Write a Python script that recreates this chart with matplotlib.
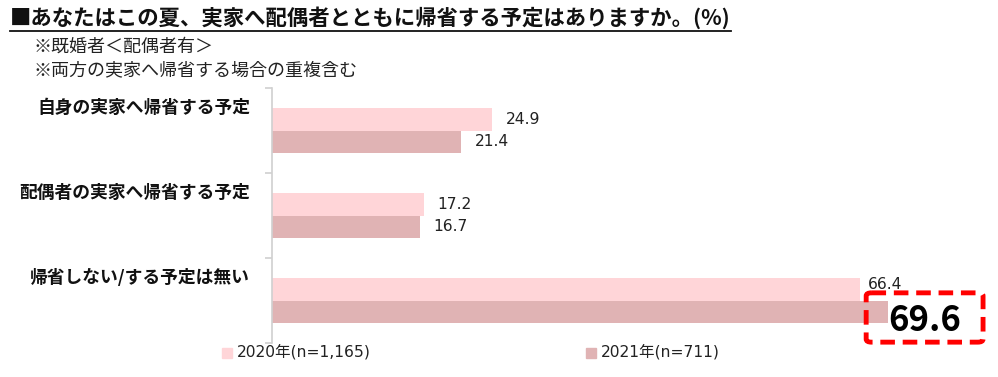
import matplotlib.pyplot as plt
import matplotlib.transforms as mtransforms
from matplotlib.patches import FancyBboxPatch, Rectangle
from matplotlib.lines import Line2D
import numpy as np

plt.rcParams['font.family'] = ['Noto Sans CJK JP', 'DejaVu Sans']
latin = ['DejaVu Sans', 'Noto Sans CJK JP']

title = '■あなたはこの夏、実家へ配偶者とともに帰省する予定はありますか。(%)'
notes = ['※既婚者＜配偶者有＞', '※両方の実家へ帰省する場合の重複含む']
categories = ['自身の実家へ帰省する予定', '配偶者の実家へ帰省する予定', '帰省しない/する予定は無い']
series_names = ['2020年(n=1,165)', '2021年(n=711)']
values_2020 = [24.9, 17.2, 66.4]
values_2021 = [21.4, 16.7, 69.6]
colors = ['#FFD5D8', '#E0B3B4']

W, H = 998, 377
fig = plt.figure(figsize=(W / 100, H / 100), dpi=100)
ax = fig.add_axes([272 / W, 1 - 343 / H, (W - 272) / W, 255 / H])

y = np.arange(len(categories))
bh = 0.259
ax.barh(y - bh / 2, values_2020, height=bh, color=colors[0])
ax.barh(y + bh / 2, values_2021, height=bh, color=colors[1])
ax.set_xlim(0, (W - 272) / 8.855)
ax.set_ylim(len(categories) - 0.5, -0.5)

for s in ['top', 'right', 'bottom']:
    ax.spines[s].set_visible(False)
ax.spines['left'].set_color('#D0D0D0')
ax.spines['left'].set_linewidth(1.2)
ax.set_xticks([])
ax.set_yticks(np.arange(-0.5, len(categories), 1.0))
ax.set_yticklabels([])
ax.tick_params(axis='y', length=5, color='#D0D0D0', width=1.2)

trans = mtransforms.blended_transform_factory(ax.transAxes, ax.transData)
for i, cat in enumerate(categories):
    ax.text(-22 / (W - 272), i - 0.27, cat, transform=trans, ha='right', va='center',
            fontsize=12.8, fontweight='bold', color='#111111')

off = 13 / 8.855
last = len(categories) - 1
for i, v in enumerate(values_2020):
    dy = -0.06 if i == last else 0
    ax.text(v + off * (0.6 if i == last else 1), i - bh / 2 + dy, f'{v:.1f}', ha='left', va='center',
            fontsize=11.2, color='#222222', family=latin)
for i, v in enumerate(values_2021[:-1]):
    ax.text(v + off, i + bh / 2, f'{v:.1f}', ha='left', va='center', fontsize=11.2,
            color='#222222', family=latin)

# highlighted last value
v = values_2021[-1]
ax.text(v + 4.1, last + 0.23, f'{v:.1f}', ha='center', va='center', fontsize=25,
        fontweight='bold', color='black')
box = FancyBboxPatch((v - 2.5, last - 0.09), 13.2, 0.58,
                     boxstyle='round,pad=0,rounding_size=0.6', mutation_aspect=0.06,
                     fill=False, edgecolor='#FF0000', linewidth=3.5, linestyle=(0, (3, 1.6)),
                     clip_on=False, zorder=5)
ax.add_patch(box)

# title and notes
t = fig.text(10 / W, 1 - 18 / H, title, ha='left', va='center', fontsize=15.4,
             fontweight='bold', color='#111111')
fig.canvas.draw()
bb = t.get_window_extent()
fig.add_artist(Line2D([bb.x0 / W, bb.x1 / W], [1 - 31 / H, 1 - 31 / H], color='#111111', lw=1.3))
for k, n in enumerate(notes):
    fig.text(33 / W, 1 - (47 + 23 * k) / H, n, ha='left', va='center', fontsize=13.0, color='#222222')

# legend
for k, (name, c) in enumerate(zip(series_names, colors)):
    x0 = [222, 586][k]
    fig.add_artist(Rectangle((x0 / W, 1 - 358 / H), 10 / W, 10 / H, color=c, transform=fig.transFigure))
    fig.text((x0 + 15) / W, 1 - 352 / H, name, ha='left', va='center', fontsize=11.2,
             color='#222222', family=latin)

fig.savefig('out.png', dpi=100)
